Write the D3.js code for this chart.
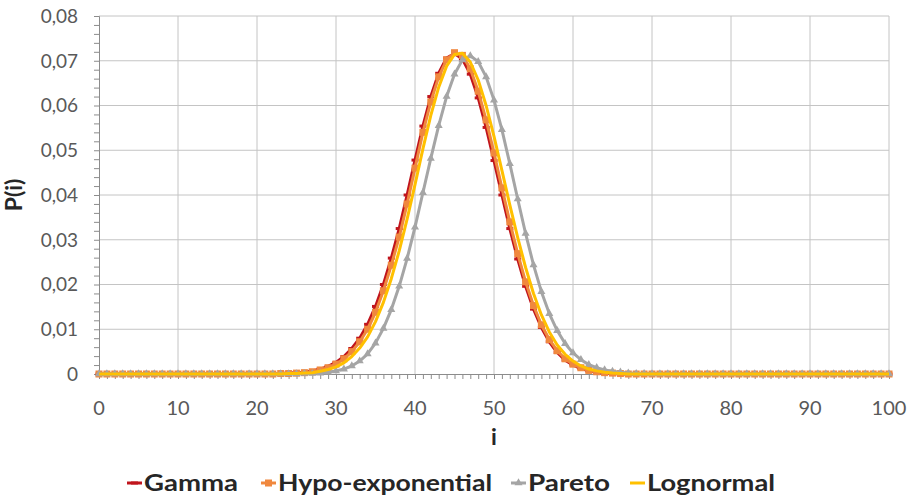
<!DOCTYPE html>
<html>
<head>
<meta charset="utf-8">
<script src="https://cdn.jsdelivr.net/npm/d3@7"></script>
<style>
  body { margin: 0; background: #fff; }
  svg { display: block; font-family: Lato, "Open Sans", sans-serif; }
</style>
</head>
<body>
<div id="chart"></div>
<script>
// P(i) for i = 0..100
const iValues = d3.range(0, 101);

const gamma = [
  0,0,0,0,0,0,0,0,0,0,
  0,0,0,0,0,0,0,0,0,0,
  0,0,0,0.0001,0.0002,0.0003,0.0004,0.0007,0.0011,0.0017,
  0.0026,0.0039,0.0057,0.0080,0.0111,0.0151,0.0200,0.0259,0.0325,0.0400,
  0.0478,0.0554,0.0620,0.0672,0.0706,0.0716,0.0704,0.0670,0.0617,0.0551,
  0.0477,0.0400,0.0325,0.0257,0.0196,0.0145,0.0104,0.0072,0.0048,0.0031,
  0.0020,0.0012,0.0007,0.0004,0.0002,0.0001,0,0,0,0,
  0,0,0,0,0,0,0,0,0,0,
  0,0,0,0,0,0,0,0,0,0,
  0,0,0,0,0,0,0,0,0,0,
  0
];

const hypo = [
  0,0,0,0,0,0,0,0,0,0,
  0,0,0,0,0,0,0,0,0,0,
  0,0,0,0.0001,0.0001,0.0002,0.0003,0.0005,0.0009,0.0014,
  0.0022,0.0034,0.0050,0.0072,0.0100,0.0138,0.0186,0.0243,0.0306,0.0380,
  0.0460,0.0540,0.0608,0.0664,0.0702,0.0718,0.0712,0.0682,0.0632,0.0568,
  0.0494,0.0416,0.0340,0.0269,0.0206,0.0153,0.0110,0.0077,0.0052,0.0034,
  0.0022,0.0014,0.0008,0.0005,0.0003,0.0002,0.0001,0,0,0,
  0,0,0,0,0,0,0,0,0,0,
  0,0,0,0,0,0,0,0,0,0,
  0,0,0,0,0,0,0,0,0,0,
  0
];

const pareto = [
  0,0,0,0,0,0,0,0,0,0,
  0,0,0,0,0,0,0,0,0,0,
  0,0,0,0,0,0,0.0001,0.0001,0.0002,0.0004,
  0.0007,0.0011,0.0018,0.0029,0.0045,0.0069,0.0102,0.0144,0.0196,0.0258,
  0.0328,0.0405,0.0482,0.0555,0.0620,0.0670,0.0702,0.0711,0.0698,0.0664,
  0.0612,0.0546,0.0470,0.0391,0.0314,0.0244,0.0184,0.0135,0.0097,0.0068,
  0.0047,0.0032,0.0021,0.0014,0.0009,0.0006,0.0004,0.0002,0.0001,0.0001,
  0,0,0,0,0,0,0,0,0,0,
  0,0,0,0,0,0,0,0,0,0,
  0,0,0,0,0,0,0,0,0,0,
  0
];

const lognormal = [
  0,0,0,0,0,0,0,0,0,0,
  0,0,0,0,0,0,0,0,0,0,
  0,0,0,0,0.0001,0.0001,0.0002,0.0003,0.0006,0.0010,
  0.0016,0.0025,0.0039,0.0058,0.0083,0.0117,0.0160,0.0213,0.0275,0.0346,
  0.0423,0.0503,0.0578,0.0641,0.0688,0.0714,0.0717,0.0697,0.0657,0.0600,
  0.0531,0.0455,0.0378,0.0305,0.0238,0.0180,0.0132,0.0094,0.0065,0.0044,
  0.0029,0.0018,0.0011,0.0007,0.0004,0.0002,0.0001,0,0,0,
  0,0,0,0,0,0,0,0,0,0,
  0,0,0,0,0,0,0,0,0,0,
  0,0,0,0,0,0,0,0,0,0,
  0
];

const seriesNames = ["Gamma", "Hypo-exponential", "Pareto", "Lognormal"];
const seriesColors = ["#c0141c", "#f0883e", "#a5a5a5", "#ffc000"];
const seriesMarkers = ["dash", "square", "triangle", "none"];
const seriesValues = [gamma, hypo, pareto, lognormal];

const xTicks = [0, 10, 20, 30, 40, 50, 60, 70, 80, 90, 100];
const yTicks = [0, 0.01, 0.02, 0.03, 0.04, 0.05, 0.06, 0.07, 0.08];

const width = 912, height = 497;
const margin = { top: 16, right: 23, bottom: 123, left: 99 };

const svg = d3.select("#chart").append("svg")
  .attr("width", width)
  .attr("height", height);

const x = d3.scaleLinear().domain([0, 100]).range([margin.left, width - margin.right]);
const y = d3.scaleLinear().domain([0, 0.08]).range([height - margin.bottom, margin.top]);

// gridlines
svg.append("g").selectAll("line.h")
  .data(yTicks.filter(d => d > 0))
  .join("line")
  .attr("x1", x(0)).attr("x2", x(100))
  .attr("y1", d => y(d)).attr("y2", d => y(d))
  .attr("stroke", "#c4c4c4").attr("stroke-width", 1);

svg.append("g").selectAll("line.v")
  .data(xTicks.filter(d => d > 0))
  .join("line")
  .attr("x1", d => x(d)).attr("x2", d => x(d))
  .attr("y1", y(0)).attr("y2", y(0.08))
  .attr("stroke", "#c4c4c4").attr("stroke-width", 1);

// y axis with minor ticks
const yAxis = svg.append("g")
  .attr("transform", `translate(${x(0)},0)`)
  .call(d3.axisLeft(y).tickValues(d3.range(0, 0.0801, 0.002)).tickSize(5).tickFormat(""));
yAxis.selectAll("line, path").attr("stroke", "#8c8c8c");

svg.append("g").selectAll("text")
  .data(yTicks)
  .join("text")
  .attr("x", x(0) - 21)
  .attr("y", d => y(d))
  .attr("dy", "0.36em")
  .attr("text-anchor", "end")
  .attr("fill", "#595959")
  .style("font-size", "19px")
  .text(d => d === 0 ? "0" : d3.format(".2f")(d).replace(".", ","));

// x axis with minor ticks
const xAxis = svg.append("g")
  .attr("transform", `translate(0,${y(0)})`)
  .call(d3.axisBottom(x).tickValues(iValues).tickSize(5).tickFormat(""));
xAxis.selectAll("line, path").attr("stroke", "#8c8c8c");

svg.append("g").selectAll("text")
  .data(xTicks)
  .join("text")
  .attr("x", d => x(d))
  .attr("y", y(0) + 41)
  .attr("text-anchor", "middle")
  .attr("fill", "#595959")
  .style("font-size", "20px")
  .text(d => d);

// axis titles
svg.append("text")
  .attr("x", (x(0) + x(100)) / 2)
  .attr("y", 445)
  .attr("text-anchor", "middle")
  .attr("fill", "#262626")
  .style("font-size", "23px")
  .style("font-weight", "bold")
  .text("i");

svg.append("text")
  .attr("transform", `translate(22,${y(0.04)}) rotate(-90)`)
  .attr("text-anchor", "middle")
  .attr("fill", "#262626")
  .style("font-size", "23px")
  .style("font-weight", "bold")
  .text("P(i)");

// markers
function drawMarker(g, type, color, cx, cy) {
  if (type === "square") {
    g.append("rect").attr("x", cx - 3.5).attr("y", cy - 3.5).attr("width", 7).attr("height", 7).attr("fill", color);
  } else if (type === "triangle") {
    g.append("path").attr("d", d3.symbol(d3.symbolTriangle, 28)()).attr("transform", `translate(${cx},${cy})`).attr("fill", color);
  } else if (type === "dash") {
    g.append("rect").attr("x", cx - 3.5).attr("y", cy - 1.5).attr("width", 7).attr("height", 3).attr("fill", color);
  }
}

const line = d3.line().x((d, i) => x(i)).y(d => y(d));

seriesValues.forEach((vals, k) => {
  const g = svg.append("g");
  g.append("path")
    .datum(vals)
    .attr("d", line)
    .attr("fill", "none")
    .attr("stroke", seriesColors[k])
    .attr("stroke-width", 3)
    .attr("stroke-linejoin", "round");
  vals.forEach((v, i) => drawMarker(g, seriesMarkers[k], seriesColors[k], x(i), y(v)));
});

// legend
const legendX = [127, 261, 511, 630];
const legendW = [94, 214, 82, 128];
const legendY = 483;
seriesNames.forEach((name, k) => {
  const g = svg.append("g");
  g.append("line")
    .attr("x1", legendX[k]).attr("x2", legendX[k] + 15)
    .attr("y1", legendY).attr("y2", legendY)
    .attr("stroke", seriesColors[k]).attr("stroke-width", 3);
  drawMarker(g, seriesMarkers[k], seriesColors[k], legendX[k] + 7.5, legendY);
  g.append("text")
    .attr("x", legendX[k] + 17)
    .attr("y", legendY)
    .attr("dy", "0.36em")
    .attr("fill", "#262626")
    .style("font-size", "22px")
    .style("font-weight", "bold")
    .attr("textLength", legendW[k])
    .attr("lengthAdjust", "spacingAndGlyphs")
    .text(name);
});
</script>
</body>
</html>
